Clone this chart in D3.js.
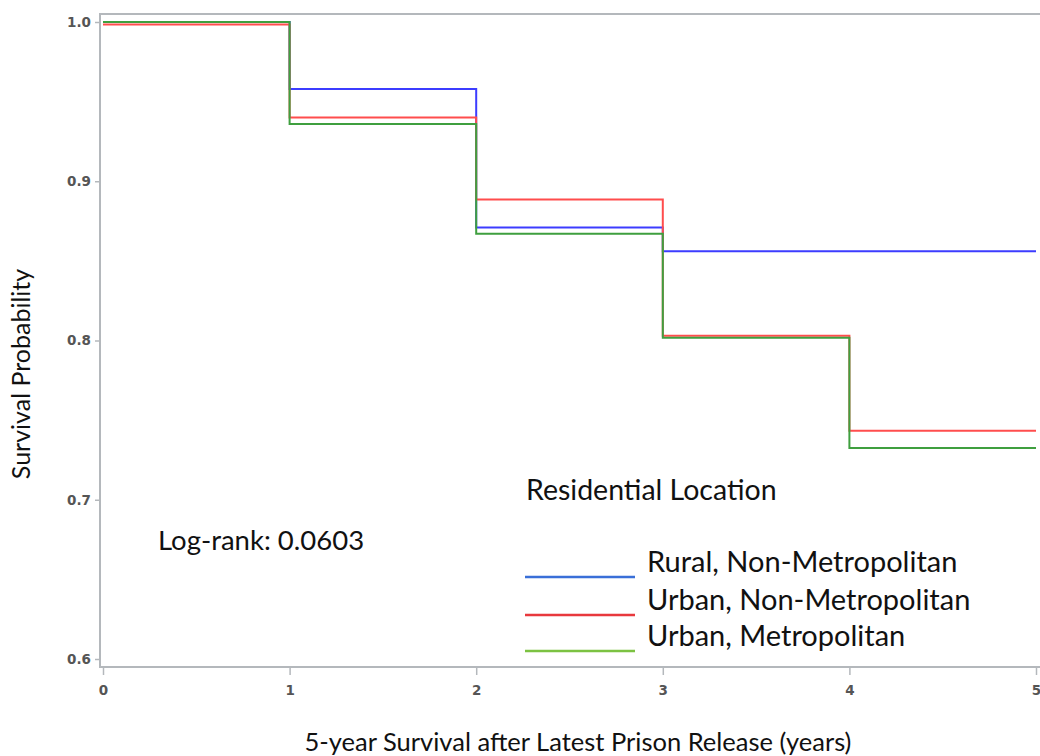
<!DOCTYPE html>
<html>
<head>
<meta charset="utf-8">
<script src="https://cdn.jsdelivr.net/npm/d3@7"></script>
<style>
  body { margin: 0; background: #fff; }
  svg { display: block; }
  .label { font-family: Lato, "Open Sans", sans-serif; fill: #111; }
</style>
</head>
<body>
<svg></svg>
<script>
// data
var times = [0, 1, 2, 3, 4, 5]
var rural = [1.0, 0.958, 0.871, 0.856, 0.856, 0.856]
var urbanNonMetro = [0.9985, 0.940, 0.8885, 0.803, 0.7434, 0.7434]
var urbanMetro = [1.0, 0.936, 0.867, 0.8017, 0.7325, 0.7325]

var seriesNames = ["Rural, Non-Metropolitan", "Urban, Non-Metropolitan", "Urban, Metropolitan"]
var seriesValues = [rural, urbanNonMetro, urbanMetro]
var lineColors = ["#3c3cff", "#ff4d4d", "#3f9f3f"]
var legendColors = ["#3a6fd8", "#e8383d", "#7cc242"]

var xTicks = [0, 1, 2, 3, 4, 5]
var yTicks = [0.6, 0.7, 0.8, 0.9, 1.0]

var screen = {width: 1040, height: 756}

var svg = d3.select("svg")
  .attr("width", screen.width)
  .attr("height", screen.height)

var xScale = d3.scaleLinear().domain([0, 5]).range([103, 1036])
var yScale = d3.scaleLinear().domain([0.6, 1.0]).range([659, 22])

var frame = {left: 100, top: 14, bottom: 667}

// frame (left axis, top border, bottom axis)
svg.append("path")
  .attr("d", "M" + (screen.width + 5) + "," + frame.top + "H" + frame.left + "V" + frame.bottom + "H" + (screen.width + 5))
  .attr("fill", "none")
  .attr("stroke", "#b4b8bc")
  .attr("stroke-width", 2)

// axes
var xAxis = d3.axisBottom(xScale)
  .tickValues(xTicks)
  .tickFormat(d3.format("d"))
  .tickSize(8)
  .tickPadding(10)

var yAxis = d3.axisLeft(yScale)
  .tickValues(yTicks)
  .tickFormat(d3.format(".1f"))
  .tickSize(5)
  .tickPadding(4)

var gx = svg.append("g")
  .attr("transform", "translate(0," + frame.bottom + ")")
  .call(xAxis)
gx.select(".domain").remove()

var gy = svg.append("g")
  .attr("transform", "translate(" + frame.left + ",0)")
  .call(yAxis)
gy.select(".domain").remove()

svg.selectAll(".tick line").attr("stroke", "#b4b8bc").attr("stroke-width", 1.5)
svg.selectAll(".tick text")
  .style("font-family", "'DejaVu Sans', sans-serif")
  .style("font-weight", "bold")
  .style("font-size", "13.5px")
  .style("fill", "#555")

// survival step lines
var lineGenerator = d3.line()
  .x(function(d, i) { return xScale(times[i]) })
  .y(function(d) { return yScale(d) })
  .curve(d3.curveStepAfter)

svg.append("g")
  .selectAll("path")
  .data(seriesValues)
  .enter()
  .append("path")
  .attr("d", lineGenerator)
  .attr("fill", "none")
  .attr("stroke", function(d, i) { return lineColors[i] })
  .attr("stroke-width", 2)

// axis titles
svg.append("text")
  .attr("class", "label")
  .attr("transform", "translate(30,374) rotate(-90)")
  .attr("text-anchor", "middle")
  .style("font-size", "25px")
  .text("Survival Probability")

svg.append("text")
  .attr("class", "label")
  .attr("x", 578)
  .attr("y", 751)
  .attr("text-anchor", "middle")
  .style("font-size", "25.5px")
  .text("5-year Survival after Latest Prison Release (years)")

// annotation
svg.append("text")
  .attr("class", "label")
  .attr("x", 158)
  .attr("y", 550)
  .style("font-size", "27.5px")
  .text("Log-rank: 0.0603")

// legend
svg.append("text")
  .attr("class", "label")
  .attr("x", 526)
  .attr("y", 500)
  .style("font-size", "28.5px")
  .text("Residential Location")

var legendRowY = [577, 615, 651]
var legend = svg.append("g")
  .selectAll("g")
  .data(seriesNames)
  .enter()
  .append("g")

legend.append("line")
  .attr("x1", 525)
  .attr("x2", 635)
  .attr("y1", function(d, i) { return legendRowY[i] })
  .attr("y2", function(d, i) { return legendRowY[i] })
  .attr("stroke", function(d, i) { return legendColors[i] })
  .attr("stroke-width", 2.5)

legend.append("text")
  .attr("class", "label")
  .attr("x", 647)
  .attr("y", function(d, i) { return legendRowY[i] - 5 })
  .style("font-size", "29px")
  .text(function(d) { return d })
</script>
</body>
</html>
